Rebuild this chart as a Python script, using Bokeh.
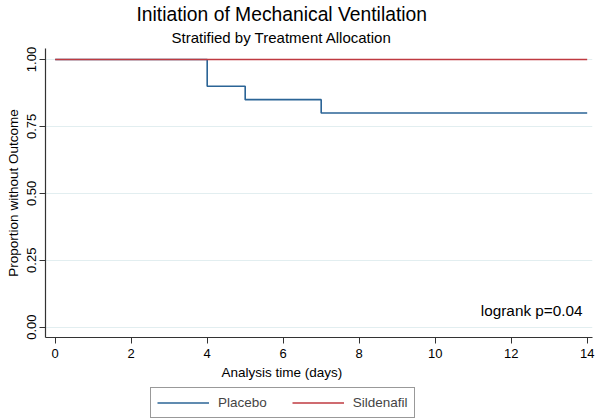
from bokeh.plotting import figure
from bokeh.layouts import column
from bokeh.models import (Range1d, FixedTicker, Label, Legend, LegendItem, Title)
from bokeh.embed import file_html
from bokeh.resources import INLINE

# ---- data ----
placebo_time = [0, 4, 5, 7, 14]
placebo_surv = [1.00, 0.90, 0.85, 0.80, 0.80]
sildenafil_time = [0, 14]
sildenafil_surv = [1.00, 1.00]
x_ticks = [0, 2, 4, 6, 8, 10, 12, 14]
y_ticks = [0.0, 0.25, 0.5, 0.75, 1.0]
y_tick_labels = ["0.00", "0.25", "0.50", "0.75", "1.00"]
title_text = "Initiation of Mechanical Ventilation"
subtitle_text = "Stratified by Treatment Allocation"
x_label = "Analysis time (days)"
y_label = "Proportion without Outcome"
annotation = "logrank p=0.04"
series_names = ["Placebo", "Sildenafil"]

FONT = "Liberation Sans"
BLUE = "#2b6496"
RED = "#bf3a40"
AXIS = "#333333"

p = figure(width=597, height=386, output_backend="svg", toolbar_location=None,
           x_range=Range1d(-0.255, 14.14), y_range=Range1d(-0.0385, 1.041),
           min_border_left=45, min_border_right=5, min_border_top=48,
           min_border_bottom=49)
p.outline_line_color = None
p.background_fill_color = "white"

r_p = p.step(placebo_time, placebo_surv, mode="after", line_color=BLUE, line_width=1.6)
r_s = p.step(sildenafil_time, sildenafil_surv, mode="after", line_color=RED, line_width=1.6)

# axes
p.xaxis.ticker = FixedTicker(ticks=x_ticks)
p.yaxis.ticker = FixedTicker(ticks=y_ticks)
p.yaxis.major_label_overrides = {t: l for t, l in zip(y_ticks, y_tick_labels)}
p.yaxis.major_label_orientation = "vertical"
for ax in (p.xaxis, p.yaxis):
    ax.axis_line_color = AXIS
    ax.axis_line_width = 1.2
    ax.major_tick_line_color = AXIS
    ax.major_tick_out = 6
    ax.major_tick_in = 0
    ax.minor_tick_line_color = None
    ax.major_label_text_font = FONT
    ax.major_label_text_font_size = "13px"
    ax.major_label_text_color = "black"
    ax.major_label_standoff = 3
    ax.axis_label_text_font = FONT
    ax.axis_label_text_font_size = "13.5px"
    ax.axis_label_text_font_style = "normal"
    ax.axis_label_text_color = "black"
p.xaxis.major_label_standoff = 5
p.yaxis.axis_label = y_label
p.yaxis.axis_label_standoff = 4

p.xgrid.grid_line_color = None
p.ygrid.ticker = FixedTicker(ticks=y_ticks)
p.ygrid.grid_line_color = "#e2eef0"
p.ygrid.grid_line_width = 1

# titles above (first added = closest to the plot)
p.add_layout(Title(text=subtitle_text, align="left", offset=126, standoff=5,
                   text_font=FONT, text_font_size="15px", text_font_style="normal",
                   text_color="black"), "above")
p.add_layout(Title(text=title_text, align="left", offset=91, standoff=0,
                   text_font=FONT, text_font_size="19.3px", text_font_style="normal",
                   text_color="black"), "above")
# x-axis label below the axis
p.add_layout(Title(text=x_label, align="left", offset=176, standoff=4,
                   text_font=FONT, text_font_size="13.5px", text_font_style="normal",
                   text_color="black"), "below")

p.add_layout(Label(x=537, y=27, x_units="screen", y_units="screen", text=annotation,
                   text_align="right", text_baseline="alphabetic",
                   text_font=FONT, text_font_size="15.3px", text_color="black"))

# legend strip (series drawn outside its visible range; only the legend shows)
lg = figure(width=597, height=34, output_backend="svg", toolbar_location=None,
            x_range=Range1d(100, 101), y_range=Range1d(100, 101),
            x_axis_location=None, y_axis_location=None,
            min_border_left=0, min_border_right=0, min_border_top=0,
            min_border_bottom=0)
lg.outline_line_color = None
lg.xgrid.grid_line_color = None
lg.ygrid.grid_line_color = None
d_p = lg.step(placebo_time, placebo_surv, mode="after", line_color=BLUE, line_width=1.6)
d_s = lg.step(sildenafil_time, sildenafil_surv, mode="after", line_color=RED, line_width=1.6)
legend = Legend(items=[LegendItem(label=series_names[0], renderers=[d_p]),
                       LegendItem(label=series_names[1], renderers=[d_s])],
                location=(105, 2), orientation="horizontal",
                glyph_width=52, glyph_height=17, label_height=17,
                label_standoff=9, spacing=25, padding=6, margin=0,
                label_text_font=FONT, label_text_font_size="13.5px",
                border_line_color=AXIS, border_line_width=1,
                background_fill_alpha=1)
lg.add_layout(legend, "center")

layout = column(p, lg, spacing=0)
open("out.html", "w").write(file_html(layout, INLINE))
